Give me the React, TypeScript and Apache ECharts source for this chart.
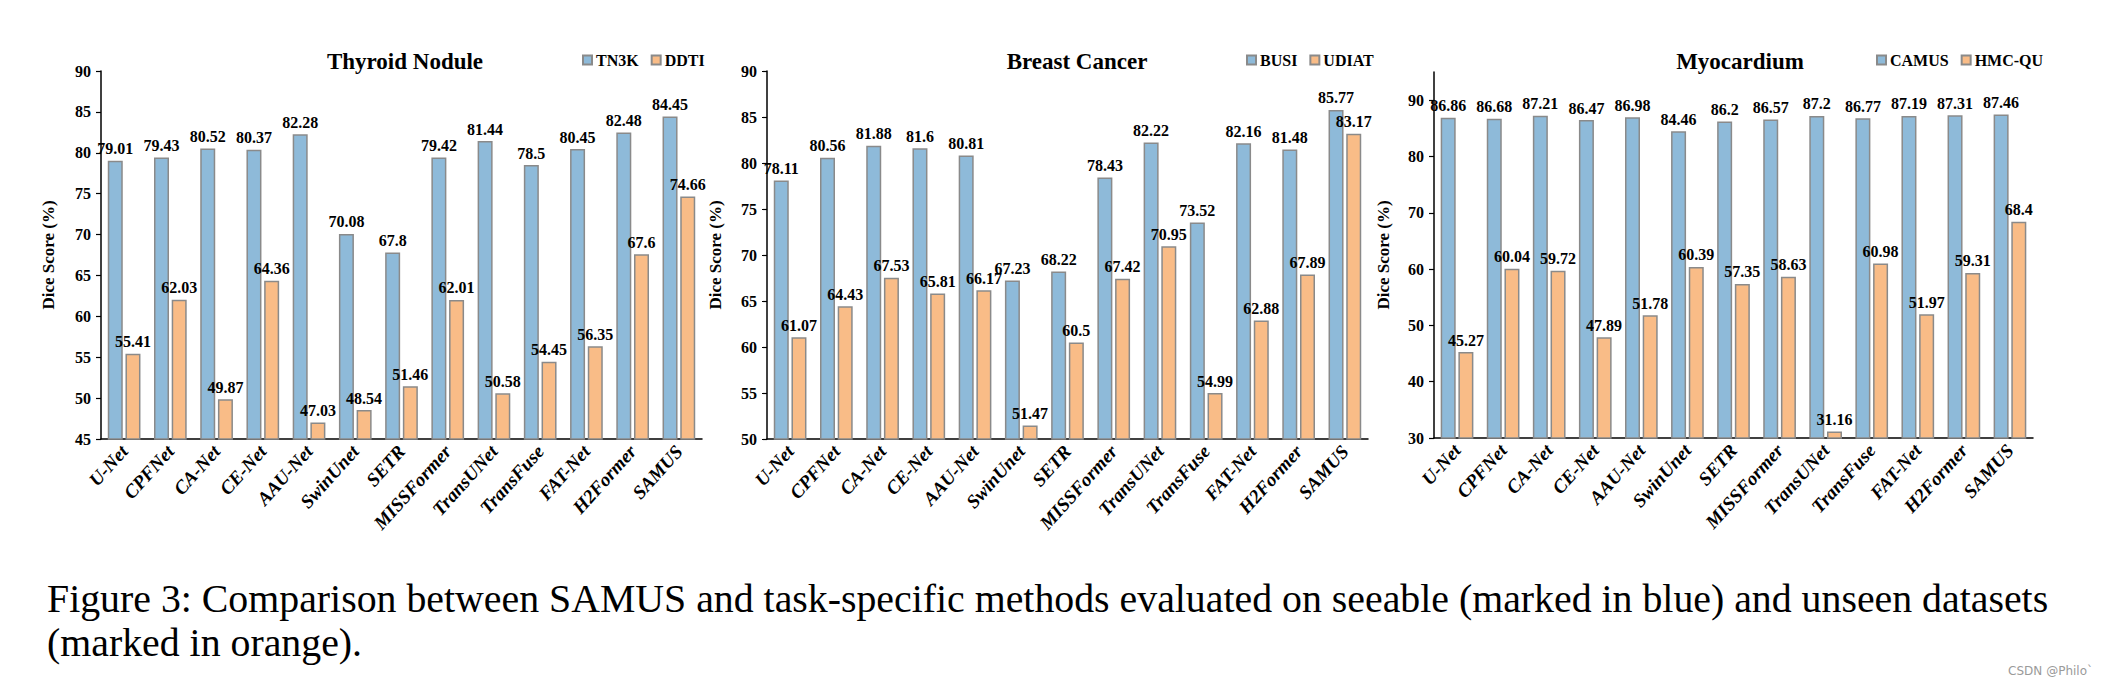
import React, { useEffect, useRef } from "react";
import * as echarts from "echarts";

// ---------- data ----------
const methods = [
  "U-Net", "CPFNet", "CA-Net", "CE-Net", "AAU-Net", "SwinUnet", "SETR",
  "MISSFormer", "TransUNet", "TransFuse", "FAT-Net", "H2Former", "SAMUS",
];

const tn3k = [79.01, 79.43, 80.52, 80.37, 82.28, 70.08, 67.8, 79.42, 81.44, 78.5, 80.45, 82.48, 84.45];
const ddti = [55.41, 62.03, 49.87, 64.36, 47.03, 48.54, 51.46, 62.01, 50.58, 54.45, 56.35, 67.6, 74.66];

const busi = [78.11, 80.56, 81.88, 81.6, 80.81, 67.23, 68.22, 78.43, 82.22, 73.52, 82.16, 81.48, 85.77];
const udiat = [61.07, 64.43, 67.53, 65.81, 66.17, 51.47, 60.5, 67.42, 70.95, 54.99, 62.88, 67.89, 83.17];

const camus = [86.86, 86.68, 87.21, 86.47, 86.98, 84.46, 86.2, 86.57, 87.2, 86.77, 87.19, 87.31, 87.46];
const hmcqu = [45.27, 60.04, 59.72, 47.89, 51.78, 60.39, 57.35, 58.63, 31.16, 60.98, 51.97, 59.31, 68.4];

const panelTitles = ["Thyroid Nodule", "Breast Cancer", "Myocardium"];
const seenNames = ["TN3K", "BUSI", "CAMUS"];
const unseenNames = ["DDTI", "UDIAT", "HMC-QU"];
const seenValues = [tn3k, busi, camus];
const unseenValues = [ddti, udiat, hmcqu];

const yAxisName = "Dice Score (%)";
const yMin = [45, 50, 30];
const yMax = [90, 90, 95];
const yInterval = [5, 5, 10];
const yTicks3 = [30, 40, 50, 60, 70, 80, 90];

const captionLine1 =
  "Figure 3: Comparison between SAMUS and task-specific methods evaluated on seeable (marked in blue) and unseen datasets";
const captionLine2 = "(marked in orange).";
const watermark = "CSDN @Philo`";

// ---------- layout / style ----------
const W = 2105;
const H = 685;
const SERIF = "Liberation Serif";
const BLUE = "#8EBAD9";
const ORANGE = "#F9BC87";
const BORDER = "#8A8A8A";

const grids = [
  { left: 101, top: 71, width: 601, height: 368 },
  { left: 767, top: 71, width: 601, height: 368 },
  { left: 1434, top: 72, width: 599, height: 366 },
];
const titleCenters = [400, 1072, 1735];
const legendLefts = [582, 1246, 1876];
const nameGaps = [44, 43, 42];

export default function App() {
  const ref = useRef<HTMLDivElement>(null);

  useEffect(() => {
    document.body.style.margin = "0";
    if (!ref.current) return;
    const chart = echarts.init(ref.current, null, { renderer: "svg", width: W, height: H });

    // fit caption line 1 to the text block width
    let capSize = 40;
    try {
      const cv = document.createElement("canvas");
      const ctx = cv.getContext("2d");
      if (ctx) {
        ctx.font = `40px "Liberation Serif"`;
        const w = ctx.measureText(captionLine1).width;
        if (w > 0) capSize = Math.max(30, Math.min(44, (40 * 2002) / w));
      }
    } catch (e) {}

    const labelStyle = {
      show: true,
      position: "top" as const,
      distance: 4,
      fontFamily: SERIF,
      fontWeight: "bold" as const,
      fontSize: 16,
      color: "#000",
    };

    const series: any[] = [];
    for (let i = 0; i < 3; i++) {
      series.push({
        type: "bar",
        name: seenNames[i],
        xAxisIndex: i,
        yAxisIndex: i,
        data: seenValues[i],
        barWidth: 15,
        barGap: "18%",
        itemStyle: { color: BLUE, borderColor: BORDER, borderWidth: 1.5 },
        label: labelStyle,
      });
      series.push({
        type: "bar",
        name: unseenNames[i],
        xAxisIndex: i,
        yAxisIndex: i,
        data: unseenValues[i],
        barWidth: 15,
        barGap: "18%",
        itemStyle: { color: ORANGE, borderColor: BORDER, borderWidth: 1.5 },
        label: labelStyle,
      });
    }

    const option: any = {
      animation: false,
      backgroundColor: "#fff",
      textStyle: { fontFamily: SERIF },
      title: panelTitles.map((t, i) => ({
        text: t,
        left: titleCenters[i],
        top: 45,
        textAlign: "center",
        textStyle: { fontFamily: SERIF, fontWeight: "bold", fontSize: 23, color: "#000" },
      })),
      legend: [0, 1, 2].map((i) => ({
        data: [seenNames[i], unseenNames[i]],
        left: legendLefts[i],
        top: 52,
        icon: "rect",
        itemWidth: 9,
        itemHeight: 9,
        itemGap: 12,
        padding: 0,
        textStyle: { fontFamily: SERIF, fontWeight: "bold", fontSize: 16, color: "#000", padding: [0, 0, 0, -1] },
      })),
      grid: grids.map((g) => ({ ...g, containLabel: false })),
      xAxis: [0, 1, 2].map((i) => ({
        type: "category",
        gridIndex: i,
        data: methods,
        axisLine: { lineStyle: { color: "#000", width: 1.5 } },
        axisTick: { show: false },
        axisLabel: {
          interval: 0,
          rotate: 48,
          margin: 9,
          fontFamily: SERIF,
          fontWeight: "bold",
          fontStyle: "italic",
          fontSize: 19,
          color: "#000",
        },
      })),
      yAxis: [0, 1, 2].map((i) => {
        const ax: any = {
          type: "value",
          gridIndex: i,
          min: yMin[i],
          max: yMax[i],
          interval: yInterval[i],
          name: yAxisName,
          nameLocation: "middle",
          nameGap: nameGaps[i],
          nameTextStyle: { fontFamily: SERIF, fontWeight: "bold", fontSize: 17, color: "#000" },
          splitLine: { show: false },
          axisLine: { show: true, lineStyle: { color: "#000", width: 1.5 } },
          axisTick: { show: true, inside: false, length: 5, lineStyle: { color: "#000", width: 1.2 } },
          axisLabel: { margin: 10, fontFamily: SERIF, fontWeight: "bold", fontSize: 16, color: "#000" },
        };
        if (i === 2) {
          ax.axisLabel.customValues = yTicks3;
          ax.axisTick.customValues = yTicks3;
        }
        return ax;
      }),
      series,
      graphic: [
        {
          type: "text",
          left: 47,
          top: 579,
          style: { text: captionLine1, fontFamily: SERIF, fontSize: capSize, fill: "#000" },
        },
        {
          type: "text",
          left: 47,
          top: 623,
          style: { text: captionLine2, fontFamily: SERIF, fontSize: capSize, fill: "#000" },
        },
        {
          type: "text",
          right: 12,
          top: 665,
          style: { text: watermark, fontFamily: "DejaVu Sans", fontSize: 12, fill: "#9a9a9a" },
        },
      ],
    };

    chart.setOption(option);
    return () => chart.dispose();
  }, []);

  return <div ref={ref} style={{ width: W, height: H, background: "#fff" }} />;
}
